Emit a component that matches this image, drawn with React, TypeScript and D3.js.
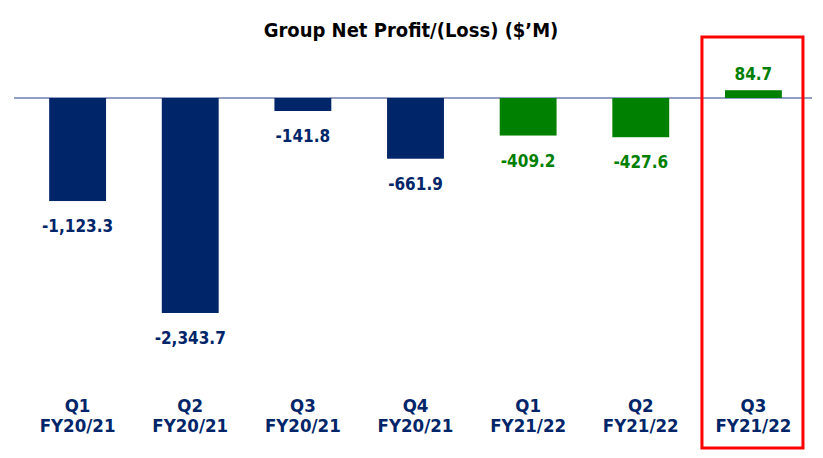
import React from 'react';
import * as d3 from 'd3';

const quarters = ['Q1', 'Q2', 'Q3', 'Q4', 'Q1', 'Q2', 'Q3'];
const fiscalYears = ['FY20/21', 'FY20/21', 'FY20/21', 'FY20/21', 'FY21/22', 'FY21/22', 'FY21/22'];
const profit = [-1123.3, -2343.7, -141.8, -661.9, -409.2, -427.6, 84.7];
const isCurrentYear = [false, false, false, false, true, true, true];

const width = 823;
const height = 458;
const navy = '#002569';
const green = '#008000';
const font = '"DejaVu Sans Condensed", "DejaVu Sans", sans-serif';

const App: React.FC = () => {
  const keys = profit.map((_, i) => String(i));

  const x = d3.scaleBand<string>().domain(keys).range([21, 810]).paddingInner(0.495).paddingOuter(0.25);

  const y = d3.scaleLinear().domain([-2343.7, 0]).range([313, 98]);

  // hyphen instead of unicode minus, as on the slide
  const fmt = (v: number) => d3.format(',.1f')(v).replace('\u2212', '-');

  const last = keys.length - 1;
  const boxX = (x(keys[last]) ?? 0) - 23;

  return (
    <div style={{ width, height, position: 'absolute', left: 0, top: 0, background: '#fff' }}>
      <svg width={width} height={height} style={{ display: 'block' }}>
        <text x={411} y={37} textAnchor="middle" fontFamily={font} fontWeight="bold" fontSize={20} fill="#000">
          Group Net Profit/(Loss) ($’M)
        </text>

        <line x1={14} x2={812} y1={y(0)} y2={y(0)} stroke="#6f7fae" strokeWidth={1.5} />

        {profit.map((v, i) => {
          const bx = x(keys[i]) ?? 0;
          const cx = bx + x.bandwidth() / 2;
          const top = Math.min(y(v), y(0));
          const h = Math.abs(y(v) - y(0));
          const color = isCurrentYear[i] ? green : navy;
          const ly = v < 0 ? y(v) + 31 : y(v) - 10;
          return (
            <g key={i}>
              <rect x={bx} y={top} width={x.bandwidth()} height={h} fill={color} />
              <text x={cx} y={ly} textAnchor="middle" fontFamily={font} fontWeight="bold" fontSize={17} fill={color}>
                {fmt(v)}
              </text>
              <text x={cx} y={412} textAnchor="middle" fontFamily={font} fontWeight="bold" fontSize={18.5} fill={navy}>
                {quarters[i]}
              </text>
              <text x={cx} y={432} textAnchor="middle" fontFamily={font} fontWeight="bold" fontSize={18.5} fill={navy}>
                {fiscalYears[i]}
              </text>
            </g>
          );
        })}

        <rect x={boxX} y={37} width={101} height={411} fill="none" stroke="#ff0000" strokeWidth={3} />
      </svg>
    </div>
  );
};

export default App;
